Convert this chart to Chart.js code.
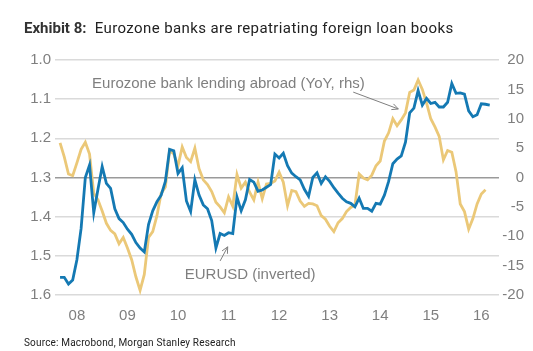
<!DOCTYPE html>
<html>
<head>
<meta charset="utf-8">
<script src="https://cdn.jsdelivr.net/npm/chart.js@4.4.1/dist/chart.umd.min.js"></script>
<style>
  html, body { margin: 0; padding: 0; background: #fff; }
  #wrap { position: relative; width: 533px; height: 351px; overflow: hidden; }
  #chart { position: absolute; left: 0; top: 0; }
  .title { position: absolute; left: 24px; top: 20px; font-family: Roboto, sans-serif; font-size: 15px; letter-spacing: 0.4px; line-height: 17px; color: #222; white-space: nowrap; }
  .title b { font-weight: 700; color: #333; letter-spacing: 0; }
  .source { position: absolute; left: 24px; top: 337px; font-family: Roboto, sans-serif; font-size: 10px; letter-spacing: 0.17px; line-height: 12px; color: #222; white-space: nowrap; }
</style>
</head>
<body>
<div id="wrap">
  <canvas id="chart" width="533" height="351"></canvas>
  <div class="title"><b>Exhibit 8:</b>&nbsp; Eurozone banks are repatriating foreign loan books</div>
  <div class="source">Source: Macrobond, Morgan Stanley Research</div>
</div>
<script>
// monthly series, month index 0 = Jan 2008
const eurusdStart = 2;   // Mar 2008
const eurusd = [
  1.555, 1.555, 1.572, 1.562, 1.51, 1.43, 1.30, 1.268, 1.39, 1.33,
  1.272, 1.315, 1.328, 1.38, 1.405, 1.415, 1.432, 1.445, 1.466, 1.48,
  1.49, 1.42, 1.385, 1.362, 1.345, 1.31, 1.228, 1.232, 1.29, 1.275,
  1.36, 1.387, 1.306, 1.345, 1.37, 1.38, 1.41, 1.48, 1.443, 1.448,
  1.441, 1.443, 1.35, 1.385, 1.357, 1.305, 1.312, 1.335, 1.332, 1.325,
  1.318, 1.24, 1.25, 1.238, 1.27, 1.289, 1.298, 1.306, 1.33, 1.348,
  1.30, 1.288, 1.315, 1.298, 1.31, 1.326, 1.34, 1.353, 1.362, 1.366,
  1.375, 1.353, 1.379, 1.379, 1.386, 1.366, 1.368, 1.345, 1.31, 1.265,
  1.253, 1.245, 1.21, 1.135, 1.123, 1.078, 1.115, 1.098, 1.111, 1.108,
  1.12, 1.12, 1.108, 1.06, 1.085, 1.084, 1.087, 1.13, 1.145, 1.14,
  1.112, 1.113, 1.115
];

const lendingStart = 2;  // Mar 2008
const lending = [
  5.9, 3.5, 0.6, 0.3, 2.5, 4.8, 6.0, 4.0, -2.7, -3.8,
  -5.7, -7.8, -9.0, -9.6, -11.3, -10.2, -12.0, -14.0, -16.9, -19.2,
  -16.5, -10.2, -9.2, -6.5, -2.7, -1.6, 4.6, 4.0, 2.0, 5.2,
  3.4, 2.7, 5.0, 1.5, -0.4, -1.2, -2.4, -4.2, -5.0, -6.0,
  -3.3, -4.9, 0.5, -1.8, -0.8, -2.5, -3.8, -0.8, -3.6, -1.1,
  -1.0, -0.6, 0.9, -0.8, -4.8, -2.2, -2.4, -4.0, -4.9, -4.4,
  -4.5, -4.8, -6.5, -7.1, -8.3, -9.2, -7.7, -7.0, -5.8, -5.1,
  -4.7, 0.6, -0.1, -0.4, 0.4, 2.0, 2.8, 6.2, 7.6, 10.0,
  8.8, 9.8, 11.0, 14.5, 14.9, 16.6, 15.0, 12.7, 10.0, 8.6,
  7.0, 3.0, 4.6, 4.3, 1.0, -4.5, -5.8, -8.8, -7.0, -4.5,
  -2.8, -2.1
];

const yearLabels = ['08', '09', '10', '11', '12', '13', '14', '15', '16'];
const leftTicks = [1.0, 1.1, 1.2, 1.3, 1.4, 1.5, 1.6];
const rightTicks = [20, 15, 10, 5, 0, -5, -10, -15, -20];

const toPoints = (arr, start) => arr.map((v, i) => ({ x: start + i, y: v }));

const blue = '#1479b3';
const gold = '#ebc878';
const grey = '#7f7f7f';

// arrows + notes, placed in data units
const notes = {
    id: 'notes',
    afterDraw(chart) {
        const { ctx, scales } = chart;
        const xs = scales.x, ys = scales.y;
        const px = m => xs.getPixelForValue(m);
        const py = v => ys.getPixelForValue(v);

        function arrow(x1, y1, x2, y2) {
            ctx.save();
            ctx.strokeStyle = grey;
            ctx.lineWidth = 1;
            ctx.beginPath();
            ctx.moveTo(x1, y1);
            ctx.lineTo(x2, y2);
            ctx.stroke();
            const a = Math.atan2(y2 - y1, x2 - x1);
            const len = 7, w = 0.45;
            ctx.beginPath();
            ctx.moveTo(x2, y2);
            ctx.lineTo(x2 - len * Math.cos(a - w), y2 - len * Math.sin(a - w));
            ctx.moveTo(x2, y2);
            ctx.lineTo(x2 - len * Math.cos(a + w), y2 - len * Math.sin(a + w));
            ctx.stroke();
            ctx.restore();
        }

        ctx.save();
        ctx.font = '15px "Liberation Sans", Arial, sans-serif';
        ctx.fillStyle = grey;
        ctx.textBaseline = 'middle';
        ctx.fillText('Eurozone bank lending abroad (YoY, rhs)', px(9.6), py(1.061));
        ctx.fillText('EURUSD (inverted)', px(31.6), py(1.549));
        ctx.restore();

        arrow(px(71.6), py(1.082), px(82.3), py(1.125));
        arrow(px(40.0), py(1.513), px(41.8), py(1.477));
    }
};

const tickFont = { family: '"Liberation Sans", Arial, sans-serif', size: 15 };

new Chart(document.getElementById('chart'), {
    type: 'line',
    data: {
        datasets: [
            {
                label: 'EURUSD (inverted)',
                data: toPoints(eurusd, eurusdStart),
                yAxisID: 'y',
                borderColor: blue,
                borderWidth: 2.8,
                pointRadius: 0,
                tension: 0
            },
            {
                label: 'Eurozone bank lending abroad (YoY, rhs)',
                data: toPoints(lending, lendingStart),
                yAxisID: 'y2',
                borderColor: gold,
                borderWidth: 2.8,
                pointRadius: 0,
                tension: 0
            }
        ]
    },
    options: {
        responsive: false,
        animation: false,
        layout: { padding: { left: 0, right: 9, top: 60, bottom: 0 } },
        plugins: {
            legend: { display: false },
            tooltip: { enabled: false }
        },
        scales: {
            x: {
                type: 'linear',
                min: 0.8,
                max: 106.2,
                afterBuildTicks: s => { s.ticks = yearLabels.map((_, i) => ({ value: 6 + 12 * i })); },
                afterFit: s => { s.height = 56; },
                grid: { display: false, drawTicks: false },
                border: { display: false },
                ticks: {
                    autoSkip: false,
                    maxRotation: 0,
                    padding: 12,
                    color: grey,
                    font: tickFont,
                    callback: v => yearLabels[Math.round((v - 6) / 12)]
                }
            },
            y: {
                position: 'left',
                reverse: true,
                min: 1.0,
                max: 1.6,
                afterBuildTicks: s => { s.ticks = leftTicks.map(v => ({ value: v })); },
                afterFit: s => { s.width = 55; },
                grid: {
                    drawTicks: false,
                    lineWidth: 1.5,
                    color: c => (Math.abs(c.tick.value - 1.3) < 1e-6 ? '#9a9a9a' : '#dadada')
                },
                border: { display: false },
                ticks: {
                    padding: 4,
                    color: grey,
                    font: tickFont,
                    callback: v => v.toFixed(1)
                }
            },
            y2: {
                position: 'right',
                min: -20,
                max: 20,
                afterBuildTicks: s => { s.ticks = rightTicks.map(v => ({ value: v })); },
                afterFit: s => { s.width = 25; },
                grid: { display: false, drawTicks: false },
                border: { display: false },
                ticks: {
                    padding: 4,
                    crossAlign: 'far',
                    color: grey,
                    font: tickFont,
                    callback: v => String(v)
                }
            }
        }
    },
    plugins: [notes]
});
</script>
</body>
</html>
